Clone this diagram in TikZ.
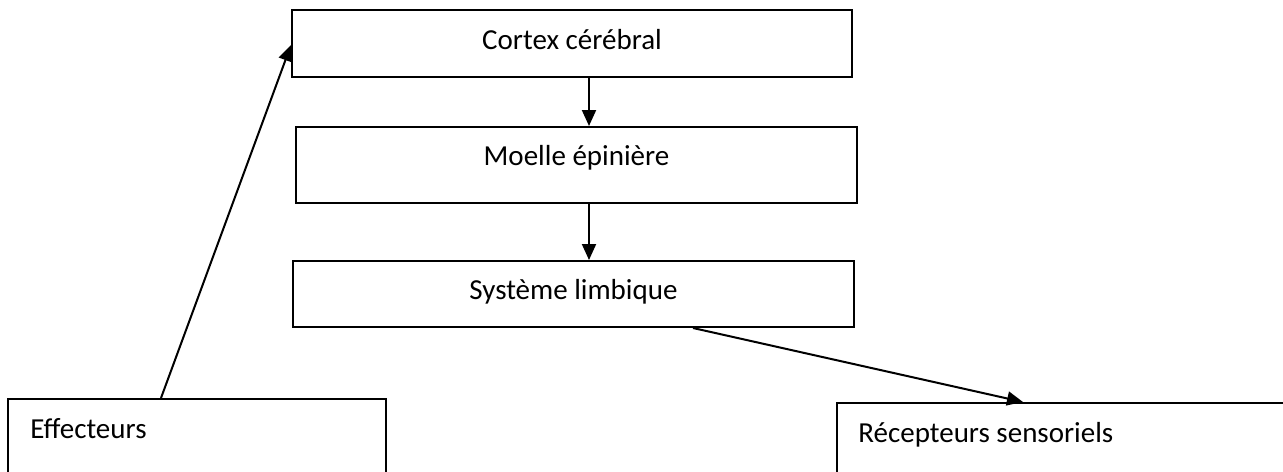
\documentclass[tikz,border=0pt]{standalone}
\usepackage{fontspec}
\setmainfont{Carlito}
\usetikzlibrary{fit,arrows.meta}
\tikzset{
  boxnode/.style={draw=black, line width=1pt, inner sep=0pt, fill=none},
  lbl/.style={inner sep=0pt, anchor=base, font=\fontsize{14.5pt}{17pt}\selectfont},
  lbll/.style={lbl, anchor=base west},
  arr/.style={line width=1pt, -{Triangle[length=8pt,width=7pt]}}
}
\begin{document}
\begin{tikzpicture}[x=0.5pt,y=-0.5pt]
\useasboundingbox (0,0) rectangle (1283,471);
\fill[white] (0,0) rectangle (1283,471);
\clip (0,0) rectangle (1283,471);
% boxes
\node[boxnode, fit={(292,10)(852,77)}] (cortex) {};
\node[boxnode, fit={(296,127)(857,203)}] (moelle) {};
\node[boxnode, fit={(293,261)(854,327)}] (limb) {};
\node[boxnode, fit={(8,399)(386,490)}] (eff) {};
\node[boxnode, fit={(837,403)(1300,490)}] (rec) {};
% labels
\node[lbl] (cortexl) at (572,49) {Cortex cérébral};
\node[lbl] (moellel) at (576.5,165) {Moelle épinière};
\node[lbl] (limbl) at (573.5,299) {Système limbique};
\node[lbll] (effl) at (30,438) {Effecteurs};
\node[lbll] (recl) at (858,442) {Récepteurs sensoriels};
% helper coordinates
\coordinate (vx) at (589,0);
\coordinate (lx) at (693,0);
\coordinate (rx) at (1023,0);
\coordinate (ex) at (161,0);
\coordinate (cy) at (0,45);
% connectors
\draw[arr] (cortex.south -| vx) -- (moelle.north -| vx);
\draw[arr] (moelle.south -| vx) -- (limb.north -| vx);
\draw[arr] (limb.south -| lx) -- (rec.north -| rx);
\draw[arr] (eff.north -| ex) -- (cortex.west |- cy);
\end{tikzpicture}
\end{document}
